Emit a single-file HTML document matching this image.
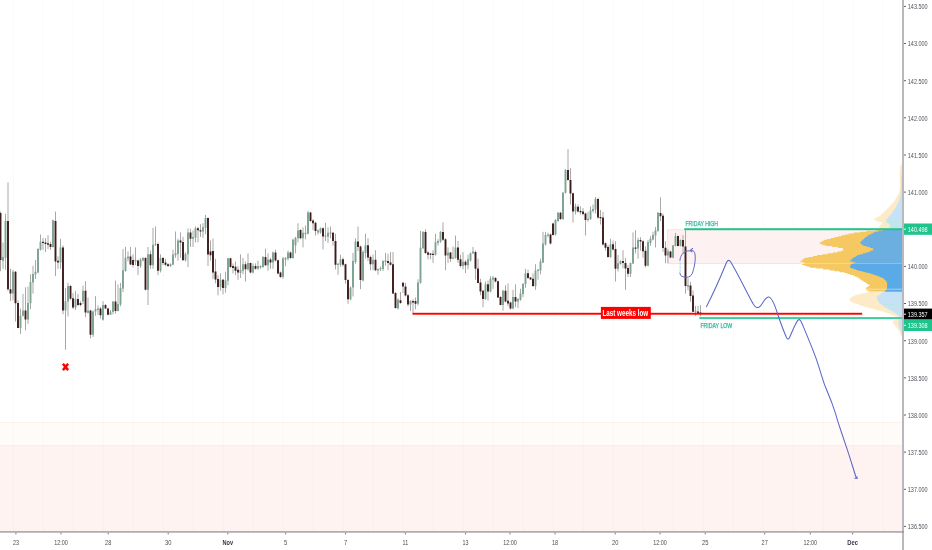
<!DOCTYPE html>
<html lang="en">
<head>
<meta charset="utf-8">
<title>Chart</title>
<style>
html,body{margin:0;padding:0;background:#fff;}
body{width:932px;height:550px;overflow:hidden;font-family:"Liberation Sans",Arial,sans-serif;}
svg{display:block;will-change:transform;}
</style>
</head>
<body>
<svg width="932" height="550" viewBox="0 0 932 550" font-family="Liberation Sans, Arial, sans-serif">
<rect width="932" height="550" fill="#ffffff"/>
<rect x="0" y="422.3" width="902" height="23.2" fill="#fffbf8"/>
<rect x="0" y="445.3" width="902" height="86" fill="#fef3f0"/>
<rect x="0" y="422" width="902" height="1" fill="#fdf1ed"/>
<rect x="0" y="445" width="902" height="1" fill="#fdece8"/>
<path d="M13.5 0V531 M43.5 0V531 M73.5 0V531 M103.5 0V531 M133.5 0V531 M163.5 0V531 M193.5 0V531 M223.5 0V531 M253.5 0V531 M283.5 0V531 M313.5 0V531 M343.5 0V531 M373.5 0V531 M403.5 0V531 M433.5 0V531 M463.5 0V531 M493.5 0V531 M523.5 0V531 M553.5 0V531 M583.5 0V531 M613.5 0V531 M643.5 0V531 M673.5 0V531 M703.5 0V531 M733.5 0V531 M763.5 0V531 M793.5 0V531 M823.5 0V531 M853.5 0V531 M883.5 0V531" stroke="#000000" stroke-opacity="0.035" stroke-width="1" stroke-dasharray="1 1" fill="none"/>
<rect x="667.5" y="229.8" width="234.5" height="33.7" fill="#fdf2f1" stroke="#f8d9d5" stroke-width="0.7"/>
<path d="M0.5 211.6V271.2 M3.0 242.5V268.8 M5.5 213.8V269.8 M8.0 182.4V290.9 M10.5 268.8V300.9 M13.0 269.8V300.4 M15.5 271.0V321.6 M18.0 300.4V328.2 M20.5 308.5V334.0 M23.0 293.9V316.5 M25.5 287.3V330.3 M28.0 286.6V323.8 M30.5 274.2V309.2 M33.0 265.9V293.6 M35.5 260.0V279.0 M38.0 248.3V273.2 M40.5 234.5V250.5 M43.0 238.1V249.8 M45.5 238.1V252.0 M48.0 235.2V249.1 M50.5 241.8V249.8 M53.0 219.6V247.6 M55.5 211.6V276.1 M58.0 256.4V268.8 M60.5 238.9V268.8 M63.0 245.4V314.3 M65.5 288.0V349.8 M68.0 282.9V316.5 M70.5 284.8V299.7 M73.0 293.1V309.2 M75.5 290.9V309.9 M78.0 293.9V306.3 M80.5 301.2V306.3 M83.0 285.6V304.1 M85.5 281.2V317.2 M88.0 297.5V313.6 M90.5 309.9V338.4 M93.0 310.6V336.9 M95.5 296.1V315.8 M98.0 305.5V315.0 M100.5 307.0V318.7 M103.0 301.2V320.6 M105.5 304.1V309.2 M108.0 307.7V315.3 M110.5 309.9V315.0 M113.0 301.2V314.3 M115.5 280.7V313.6 M118.0 284.4V311.4 M120.5 282.9V306.3 M123.0 249.1V292.1 M125.5 246.9V271.7 M128.0 251.3V261.5 M130.5 246.9V265.1 M133.0 254.2V267.3 M135.5 247.3V265.2 M138.0 259.7V275.2 M140.5 257.9V267.9 M143.0 257.0V261.5 M145.5 257.0V290.4 M148.0 247.0V305.0 M150.5 250.6V268.8 M153.0 227.8V268.8 M155.5 226.5V246.0 M158.0 242.4V275.2 M160.5 254.3V272.5 M163.0 257.0V265.2 M165.5 258.8V266.1 M168.0 263.0V267.0 M170.5 263.4V267.0 M173.0 249.7V265.2 M175.5 231.5V257.9 M178.0 238.7V260.6 M180.5 232.4V257.9 M183.0 236.9V260.6 M185.5 252.4V261.5 M188.0 228.3V267.0 M190.5 228.7V247.0 M193.0 230.5V247.0 M195.5 226.5V242.4 M198.0 226.9V242.4 M200.5 224.2V236.9 M203.0 223.2V237.8 M205.5 215.0V234.2 M208.0 217.4V266.1 M210.5 240.6V260.6 M213.0 238.7V278.9 M215.5 258.8V283.4 M218.0 275.2V295.3 M220.5 273.4V290.7 M223.0 278.9V294.4 M225.5 271.6V292.6 M228.0 257.9V285.3 M230.5 257.9V267.9 M233.0 263.4V273.4 M235.5 261.5V275.2 M238.0 266.1V279.8 M240.5 254.3V278.0 M243.0 257.9V274.3 M245.5 261.5V281.6 M248.0 253.3V270.7 M250.5 262.5V273.4 M253.0 263.4V273.4 M255.5 263.4V269.8 M258.0 260.6V269.8 M260.5 265.2V268.8 M263.0 256.1V267.9 M265.5 248.8V266.1 M268.0 253.3V270.7 M270.5 257.9V268.8 M273.0 251.5V268.8 M275.5 249.7V261.5 M278.0 259.7V274.3 M280.5 271.6V278.0 M283.0 257.0V278.9 M285.5 257.0V266.1 M288.0 250.6V260.6 M290.5 251.5V258.8 M293.0 238.7V258.8 M295.5 236.9V253.3 M298.0 223.2V242.4 M300.5 229.2V239.2 M303.0 227.4V247.4 M305.5 225.5V239.2 M308.0 210.9V234.3 M310.5 211.9V221.9 M313.0 219.2V230.1 M315.5 221.9V235.6 M318.0 229.2V234.7 M320.5 227.4V233.7 M323.0 227.4V249.3 M325.5 222.8V241.0 M328.0 227.4V242.9 M330.5 226.5V238.3 M333.0 231.9V245.6 M335.5 233.7V269.3 M338.0 262.9V274.8 M340.5 254.7V266.6 M343.0 257.5V266.6 M345.5 263.5V283.7 M348.0 279.2V303.8 M350.5 286.5V300.2 M353.0 252.9V296.5 M355.5 238.3V263.8 M358.0 226.5V251.1 M360.5 245.6V289.2 M363.0 250.2V281.4 M365.5 233.7V258.4 M368.0 238.3V261.1 M370.5 255.6V270.2 M373.0 254.7V270.2 M375.5 250.2V271.1 M378.0 268.4V274.8 M380.5 266.6V271.1 M383.0 260.2V271.1 M385.5 252.9V265.7 M388.0 253.8V270.2 M390.5 252.0V265.7 M393.0 252.0V294.1 M395.5 292.0V308.7 M398.0 298.3V309.3 M400.5 292.0V303.8 M403.0 281.9V292.9 M405.5 282.8V296.5 M408.0 293.8V306.5 M410.5 300.2V311.1 M413.0 299.3V312.9 M415.5 297.4V309.3 M418.0 279.2V305.6 M420.5 231.0V283.7 M423.0 231.0V248.9 M425.5 229.2V253.8 M428.0 251.1V259.3 M430.5 252.9V259.3 M433.0 250.2V262.9 M435.5 233.7V255.6 M438.0 239.2V245.6 M440.5 231.0V242.9 M443.0 222.3V241.0 M445.5 238.3V270.2 M448.0 247.4V262.9 M450.5 252.0V262.0 M453.0 246.5V259.3 M455.5 235.6V258.7 M458.0 241.0V262.9 M460.5 254.7V267.5 M463.0 252.0V269.3 M465.5 260.2V273.0 M468.0 254.7V269.3 M470.5 252.4V261.5 M473.0 246.9V254.2 M475.5 250.5V279.7 M478.0 258.7V283.4 M480.5 278.8V295.2 M483.0 289.8V307.1 M485.5 281.5V299.8 M488.0 280.6V300.7 M490.5 276.1V292.5 M493.0 276.1V288.8 M495.5 277.0V282.5 M498.0 280.6V298.0 M500.5 296.1V305.3 M503.0 289.8V310.7 M505.5 285.2V302.5 M508.0 283.4V306.2 M510.5 301.6V309.8 M513.0 289.8V309.3 M515.5 284.3V307.1 M518.0 298.0V308.0 M520.5 288.8V300.7 M523.0 283.4V297.1 M525.5 268.8V287.9 M528.0 269.7V278.8 M530.5 277.0V279.7 M533.0 273.3V287.0 M535.5 264.2V289.8 M538.0 268.8V279.7 M540.5 258.7V274.3 M543.0 231.8V263.0 M545.5 231.8V245.5 M548.0 232.7V237.3 M550.5 233.6V244.5 M553.0 222.7V235.5 M555.5 219.1V235.5 M558.0 211.8V221.8 M560.5 211.8V220.0 M563.0 191.8V220.0 M565.5 169.1V193.6 M568.0 149.1V180.9 M570.5 168.2V204.5 M573.0 192.7V222.7 M575.5 203.6V214.5 M578.0 204.5V212.7 M580.5 206.4V214.5 M583.0 208.2V215.5 M585.5 212.7V235.5 M588.0 211.8V221.8 M590.5 206.4V220.0 M593.0 204.5V212.7 M595.5 196.9V213.6 M598.0 197.6V219.1 M600.5 210.0V224.5 M603.0 211.8V245.5 M605.5 242.3V250.5 M608.0 245.1V257.8 M610.5 238.7V257.8 M613.0 240.5V250.5 M615.5 241.4V281.5 M618.0 255.1V271.5 M620.5 260.4V264.7 M623.0 250.2V268.4 M625.5 258.2V289.9 M628.0 265.2V277.0 M630.5 262.5V277.0 M633.0 232.4V264.1 M635.5 230.2V253.4 M638.0 237.7V258.8 M640.5 237.2V250.7 M643.0 240.4V257.7 M645.5 246.4V267.4 M648.0 239.9V266.3 M650.5 236.1V245.8 M653.0 231.8V240.4 M655.5 227.0V247.4 M658.0 212.0V231.8 M660.5 197.3V221.1 M663.0 213.6V251.8 M665.5 241.1V263.1 M668.0 249.1V263.1 M670.5 250.7V258.2 M673.0 244.8V258.2 M675.5 232.9V246.4 M678.0 235.6V246.4 M680.5 239.4V246.4 M683.0 235.1V253.9 M685.5 230.2V293.6 M688.0 278.1V290.4 M690.5 281.8V301.8 M693.0 290.5V312.0 M695.5 305.9V315.9 M698.0 305.9V313.2 M700.5 305.0V316.4" stroke="#a8a8a8" stroke-width="1" fill="none"/>
<path d="M2.05 257.1h1.9V260.8h-1.9z M4.55 221.1h1.9V257.8h-1.9z M12.05 271.7h1.9V293.6h-1.9z M19.55 315.8h1.9V327.9h-1.9z M22.05 310.6h1.9V315.8h-1.9z M27.05 303.1h1.9V319.4h-1.9z M29.55 281.9h1.9V303.3h-1.9z M32.05 273.9h1.9V282.6h-1.9z M34.55 271.7h1.9V274.6h-1.9z M37.05 249.1h1.9V272.4h-1.9z M39.55 241.8h1.9V249.8h-1.9z M52.05 220.3h1.9V246.9h-1.9z M59.55 247.6h1.9V262.6h-1.9z M64.55 301.2h1.9V310.6h-1.9z M67.05 286.0h1.9V301.6h-1.9z M74.55 299.0h1.9V307.4h-1.9z M82.05 290.7h1.9V301.6h-1.9z M87.05 310.4h1.9V312.8h-1.9z M92.05 311.4h1.9V334.7h-1.9z M94.55 309.2h1.9V311.4h-1.9z M97.05 308.5h1.9V309.9h-1.9z M102.05 305.1h1.9V319.7h-1.9z M109.55 311.8h1.9V314.7h-1.9z M112.05 301.6h1.9V312.1h-1.9z M117.05 304.1h1.9V310.9h-1.9z M119.55 288.0h1.9V304.5h-1.9z M122.05 270.2h1.9V288.5h-1.9z M124.55 257.8h1.9V271.0h-1.9z M127.05 256.4h1.9V258.6h-1.9z M134.55 259.7h1.9V261.5h-1.9z M139.55 259.4h1.9V266.1h-1.9z M142.05 257.9h1.9V260.6h-1.9z M147.05 254.3h1.9V289.8h-1.9z M152.05 244.8h1.9V265.2h-1.9z M154.55 243.9h1.9V245.1h-1.9z M159.55 257.9h1.9V270.7h-1.9z M169.55 264.3h1.9V266.1h-1.9z M172.05 254.6h1.9V264.8h-1.9z M174.55 253.3h1.9V255.2h-1.9z M177.05 240.6h1.9V253.9h-1.9z M184.55 253.9h1.9V260.3h-1.9z M187.05 232.4h1.9V254.3h-1.9z M192.05 236.9h1.9V238.7h-1.9z M194.55 228.3h1.9V237.8h-1.9z M202.05 227.3h1.9V231.5h-1.9z M204.55 218.1h1.9V227.8h-1.9z M219.55 279.8h1.9V287.1h-1.9z M224.55 280.2h1.9V288.0h-1.9z M227.05 258.3h1.9V280.7h-1.9z M239.55 269.8h1.9V272.9h-1.9z M242.05 264.3h1.9V270.7h-1.9z M247.05 263.0h1.9V269.2h-1.9z M252.05 266.1h1.9V272.5h-1.9z M257.05 266.1h1.9V268.8h-1.9z M259.55 266.1h1.9V267.4h-1.9z M262.05 257.0h1.9V267.0h-1.9z M267.05 259.4h1.9V265.2h-1.9z M272.05 252.4h1.9V262.5h-1.9z M282.05 258.3h1.9V277.1h-1.9z M284.55 257.9h1.9V259.4h-1.9z M287.05 252.4h1.9V258.8h-1.9z M292.05 239.7h1.9V257.9h-1.9z M294.55 237.8h1.9V245.5h-1.9z M297.05 230.5h1.9V238.2h-1.9z M302.05 232.8h1.9V238.3h-1.9z M304.55 232.8h1.9V234.3h-1.9z M307.05 212.4h1.9V233.7h-1.9z M317.05 230.6h1.9V232.5h-1.9z M319.55 228.3h1.9V232.5h-1.9z M324.55 235.6h1.9V236.8h-1.9z M327.05 232.8h1.9V236.5h-1.9z M329.55 232.5h1.9V233.7h-1.9z M337.05 263.8h1.9V265.1h-1.9z M339.55 259.3h1.9V264.8h-1.9z M349.55 287.4h1.9V299.3h-1.9z M352.05 261.1h1.9V287.4h-1.9z M354.55 241.6h1.9V262.0h-1.9z M362.05 252.0h1.9V280.6h-1.9z M364.55 245.2h1.9V252.9h-1.9z M372.05 259.8h1.9V264.2h-1.9z M377.05 269.0h1.9V270.4h-1.9z M379.55 267.9h1.9V269.3h-1.9z M382.05 261.1h1.9V269.0h-1.9z M384.55 260.6h1.9V262.0h-1.9z M397.05 299.6h1.9V308.4h-1.9z M409.55 301.1h1.9V304.4h-1.9z M417.05 282.5h1.9V303.8h-1.9z M419.55 247.8h1.9V282.8h-1.9z M422.05 231.9h1.9V248.3h-1.9z M434.55 242.3h1.9V254.7h-1.9z M437.05 241.0h1.9V242.9h-1.9z M439.55 231.9h1.9V241.6h-1.9z M447.05 252.5h1.9V255.6h-1.9z M452.05 257.5h1.9V258.7h-1.9z M454.55 247.4h1.9V258.0h-1.9z M462.05 261.7h1.9V266.0h-1.9z M467.05 259.3h1.9V265.3h-1.9z M469.55 253.3h1.9V260.6h-1.9z M472.05 251.5h1.9V253.3h-1.9z M484.55 284.3h1.9V298.9h-1.9z M489.55 278.8h1.9V291.6h-1.9z M492.05 277.5h1.9V279.4h-1.9z M502.05 290.7h1.9V304.9h-1.9z M512.05 297.1h1.9V308.5h-1.9z M517.05 298.9h1.9V301.6h-1.9z M519.55 293.4h1.9V299.8h-1.9z M522.05 283.7h1.9V294.0h-1.9z M524.55 273.3h1.9V284.3h-1.9z M534.55 270.6h1.9V286.1h-1.9z M537.05 269.7h1.9V271.0h-1.9z M539.55 261.5h1.9V270.6h-1.9z M542.05 243.6h1.9V262.4h-1.9z M544.55 235.1h1.9V244.5h-1.9z M547.05 234.5h1.9V235.8h-1.9z M554.55 220.0h1.9V234.5h-1.9z M557.05 212.7h1.9V220.9h-1.9z M562.05 192.7h1.9V219.1h-1.9z M564.55 170.0h1.9V192.7h-1.9z M574.55 206.4h1.9V211.5h-1.9z M587.05 218.7h1.9V220.0h-1.9z M589.55 210.4h1.9V219.1h-1.9z M592.05 209.1h1.9V210.9h-1.9z M594.55 199.1h1.9V209.6h-1.9z M609.55 244.2h1.9V256.9h-1.9z M617.05 263.3h1.9V268.8h-1.9z M619.55 260.9h1.9V264.1h-1.9z M629.55 263.1h1.9V273.8h-1.9z M632.05 247.5h1.9V263.6h-1.9z M637.05 239.9h1.9V248.6h-1.9z M647.05 242.0h1.9V265.8h-1.9z M649.55 238.8h1.9V243.1h-1.9z M652.05 235.1h1.9V239.4h-1.9z M654.55 230.2h1.9V235.6h-1.9z M657.05 212.7h1.9V230.8h-1.9z M667.05 251.6h1.9V255.6h-1.9z M672.05 245.4h1.9V257.7h-1.9z M674.55 235.9h1.9V245.9h-1.9z M679.55 239.9h1.9V245.9h-1.9z M687.05 285.1h1.9V286.7h-1.9z M694.55 310.8h1.9V312.1h-1.9z" fill="#7da391"/>
<path d="M-0.45 213.0h1.9V260.0h-1.9z M7.05 221.1h1.9V289.2h-1.9z M9.55 289.2h1.9V293.6h-1.9z M14.55 271.7h1.9V303.3h-1.9z M17.05 303.1h1.9V327.9h-1.9z M24.55 310.6h1.9V319.4h-1.9z M42.05 241.7h1.9V242.9h-1.9z M44.55 242.5h1.9V244.0h-1.9z M47.05 243.2h1.9V244.7h-1.9z M49.55 244.0h1.9V246.9h-1.9z M54.55 221.1h1.9V261.5h-1.9z M57.05 260.8h1.9V262.6h-1.9z M62.05 247.6h1.9V310.6h-1.9z M69.55 286.0h1.9V298.7h-1.9z M72.05 298.2h1.9V307.4h-1.9z M77.05 299.0h1.9V305.1h-1.9z M79.55 303.1h1.9V305.1h-1.9z M84.55 290.7h1.9V312.4h-1.9z M89.55 310.6h1.9V334.7h-1.9z M99.55 308.5h1.9V315.3h-1.9z M104.55 305.1h1.9V308.5h-1.9z M107.05 308.5h1.9V314.7h-1.9z M114.55 301.6h1.9V310.9h-1.9z M129.55 256.4h1.9V264.4h-1.9z M132.05 260.0h1.9V265.1h-1.9z M137.05 260.6h1.9V266.1h-1.9z M144.55 257.9h1.9V289.8h-1.9z M149.55 254.3h1.9V265.2h-1.9z M157.05 243.9h1.9V270.7h-1.9z M162.05 257.9h1.9V263.0h-1.9z M164.55 262.5h1.9V264.8h-1.9z M167.05 264.3h1.9V266.1h-1.9z M179.55 240.6h1.9V242.4h-1.9z M182.05 242.0h1.9V260.3h-1.9z M189.55 232.4h1.9V238.7h-1.9z M197.05 228.3h1.9V230.2h-1.9z M199.55 230.2h1.9V231.5h-1.9z M207.05 218.1h1.9V254.6h-1.9z M209.55 251.5h1.9V255.2h-1.9z M212.05 251.0h1.9V272.5h-1.9z M214.55 271.6h1.9V279.4h-1.9z M217.05 278.9h1.9V287.1h-1.9z M222.05 279.8h1.9V288.0h-1.9z M229.55 258.3h1.9V267.0h-1.9z M232.05 266.1h1.9V267.9h-1.9z M234.55 266.7h1.9V270.7h-1.9z M237.05 269.8h1.9V272.5h-1.9z M244.55 264.3h1.9V269.2h-1.9z M249.55 263.0h1.9V272.5h-1.9z M254.55 266.1h1.9V268.8h-1.9z M264.55 257.0h1.9V265.2h-1.9z M269.55 259.4h1.9V262.5h-1.9z M274.55 252.4h1.9V260.6h-1.9z M277.05 260.3h1.9V273.4h-1.9z M279.55 272.5h1.9V277.1h-1.9z M289.55 252.4h1.9V257.9h-1.9z M299.55 230.1h1.9V238.3h-1.9z M309.55 212.4h1.9V221.0h-1.9z M312.05 220.4h1.9V223.3h-1.9z M314.55 222.8h1.9V231.0h-1.9z M322.05 228.3h1.9V236.5h-1.9z M332.05 232.8h1.9V241.0h-1.9z M334.55 241.0h1.9V264.8h-1.9z M342.05 259.3h1.9V264.8h-1.9z M344.55 264.2h1.9V280.1h-1.9z M347.05 280.1h1.9V299.3h-1.9z M357.05 241.6h1.9V247.1h-1.9z M359.55 246.5h1.9V280.1h-1.9z M367.05 245.2h1.9V257.5h-1.9z M369.55 256.9h1.9V264.2h-1.9z M374.55 259.8h1.9V270.2h-1.9z M387.05 261.1h1.9V262.9h-1.9z M389.55 262.4h1.9V264.8h-1.9z M392.05 264.2h1.9V293.4h-1.9z M394.55 292.9h1.9V308.0h-1.9z M399.55 300.2h1.9V302.9h-1.9z M402.05 282.8h1.9V286.5h-1.9z M404.55 286.5h1.9V295.6h-1.9z M407.05 295.2h1.9V304.4h-1.9z M412.05 301.1h1.9V302.4h-1.9z M414.55 301.1h1.9V303.8h-1.9z M424.55 231.9h1.9V252.9h-1.9z M427.05 252.5h1.9V254.7h-1.9z M429.55 253.4h1.9V254.7h-1.9z M432.05 253.8h1.9V255.1h-1.9z M442.05 231.9h1.9V239.8h-1.9z M444.55 239.2h1.9V255.6h-1.9z M449.55 252.5h1.9V258.7h-1.9z M457.05 247.4h1.9V259.8h-1.9z M459.55 259.3h1.9V266.0h-1.9z M464.55 261.7h1.9V265.3h-1.9z M474.55 252.0h1.9V268.8h-1.9z M477.05 268.4h1.9V283.0h-1.9z M479.55 282.5h1.9V291.6h-1.9z M482.05 290.7h1.9V298.9h-1.9z M487.05 284.3h1.9V291.6h-1.9z M494.55 277.9h1.9V281.5h-1.9z M497.05 281.2h1.9V297.6h-1.9z M499.55 297.1h1.9V304.9h-1.9z M504.55 290.7h1.9V301.6h-1.9z M507.05 300.7h1.9V303.4h-1.9z M509.55 302.5h1.9V308.5h-1.9z M514.55 297.1h1.9V301.6h-1.9z M527.05 273.3h1.9V277.9h-1.9z M529.55 277.5h1.9V279.4h-1.9z M532.05 278.8h1.9V286.1h-1.9z M549.55 234.5h1.9V243.6h-1.9z M552.05 223.6h1.9V235.1h-1.9z M559.55 212.7h1.9V219.1h-1.9z M567.05 170.0h1.9V180.0h-1.9z M569.55 180.0h1.9V193.6h-1.9z M572.05 193.3h1.9V211.5h-1.9z M577.05 206.7h1.9V211.5h-1.9z M579.55 210.9h1.9V212.2h-1.9z M582.05 211.5h1.9V214.0h-1.9z M584.55 213.6h1.9V220.0h-1.9z M597.05 199.1h1.9V217.6h-1.9z M599.55 216.9h1.9V218.2h-1.9z M602.05 217.6h1.9V244.5h-1.9z M604.55 243.2h1.9V247.8h-1.9z M607.05 246.9h1.9V256.9h-1.9z M612.05 244.2h1.9V249.6h-1.9z M614.55 249.1h1.9V268.8h-1.9z M622.05 260.9h1.9V263.1h-1.9z M624.55 263.1h1.9V268.4h-1.9z M627.05 267.9h1.9V273.8h-1.9z M634.55 247.5h1.9V248.7h-1.9z M639.55 239.9h1.9V241.5h-1.9z M642.05 241.3h1.9V251.3h-1.9z M644.55 250.7h1.9V265.8h-1.9z M659.55 213.1h1.9V216.3h-1.9z M662.05 215.8h1.9V248.0h-1.9z M664.55 247.7h1.9V255.6h-1.9z M669.55 251.6h1.9V257.4h-1.9z M677.05 236.1h1.9V245.9h-1.9z M682.05 239.9h1.9V246.4h-1.9z M684.55 246.4h1.9V286.1h-1.9z M689.55 285.6h1.9V295.9h-1.9z M692.05 295.5h1.9V311.8h-1.9z M697.05 311.4h1.9V312.9h-1.9z M699.55 312.6h1.9V313.9h-1.9z" fill="#3c1b1b"/>
<path d="M902 164.5H900.5V165.4H900.4V166.3H900.3V167.2H900.2V168.1H900.1V169.0H900.0V169.9H899.9V170.8H899.8V171.7H899.7V172.6H899.7V173.5H899.6V174.4H899.6V175.3H899.7V176.2H899.7V177.1H899.7V178.0H899.8V178.9H899.8V179.8H899.8V180.7H899.8V181.6H899.9V182.5H899.9V183.4H899.9V184.3H899.9V185.2H900.0V186.1H900.0V187.0H899.8V187.9H899.6V188.8H899.5V189.7H899.3V190.6H899.2V191.5H899.0V192.4H898.8V193.3H898.6V194.2H898.1V195.1H897.6V196.0H897.1V196.9H896.5V197.8H896.0V198.7H895.5V199.6H895.0V200.5H894.5V201.4H893.7V202.3H892.9V203.2H892.0V204.1H891.2V205.0H890.4V205.9H889.6V206.8H888.8V207.7H887.9V208.6H887.1V209.5H886.2V210.4H885.4V211.3H884.5V212.2H883.5V213.1H882.4V214.0H881.3V214.9H880.3V215.8H879.2V216.7H877.4V217.6H875.6V218.5H873.7V219.4H874.8V220.3H876.1V221.2H878.8V222.1H882.1V223.0H882.0V223.9H881.1V224.8H880.2V225.7H879.6V226.6H879.1V227.5H878.9V228.4H879.7V229.0H902z" fill="#fdebc8"/>
<path d="M902 291.5H867.4V292.4H865.6V293.3H861.1V294.2H857.0V295.1H854.9V296.0H852.9V296.9H851.0V297.8H850.3V298.7H849.6V299.6H849.1V300.5H850.3V301.4H851.5V302.3H852.8V303.2H855.5V304.1H858.2V305.0H860.9V305.9H863.8V306.8H866.8V307.7H869.8V308.6H873.3V309.5H876.9V310.4H880.4V311.3H883.3V312.2H886.1V313.1H888.8V314.0H891.0V314.9H893.1V315.8H895.2V316.7H896.7V317.6H898.2V318.5H897.9V319.4H895.6V320.3H893.3V321.2H892.8V322.1H893.1V323.0H893.3V323.9H893.9V324.8H894.7V325.7H895.4V326.6H896.2V327.5H896.9V328.4H897.5V329.3H898.1V330.2H898.8V331.1H899.3V332.0H899.8V332.9H900.3V333.8H900.9V334.7H901.2V335.6H901.4V336.5H901.7V337.4H901.9V338.0H902z" fill="#fdebc8"/>
<path d="M902 172.0H901.9V172.9H901.7V173.8H901.6V174.7H901.4V175.6H901.2V176.5H901.2V177.4H901.2V178.3H901.1V179.2H901.1V180.1H901.1V181.0H901.1V181.9H901.1V182.8H901.0V183.7H901.0V184.6H901.0V185.5H901.0V186.4H901.0V187.3H900.9V188.2H900.9V189.1H900.9V190.0H900.9V190.9H900.9V191.8H900.8V192.7H900.8V193.6H900.7V194.5H900.5V195.4H900.2V196.3H900.0V197.2H899.8V198.1H899.6V199.0H899.4V199.9H899.1V200.8H898.8V201.7H898.4V202.6H898.0V203.5H897.6V204.4H897.1V205.3H896.7V206.2H896.2V207.1H895.6V208.0H895.0V208.9H894.4V209.8H893.8V210.7H893.1V211.6H892.5V212.5H891.8V213.4H891.1V214.3H890.3V215.2H889.6V216.1H888.9V217.0H888.1V217.9H887.4V218.8H886.6V219.7H886.1V220.6H886.8V221.5H887.4V222.4H888.1V223.3H888.9V224.2H889.6V225.1H890.3V226.0H890.9V226.9H890.0V227.8H889.3V228.7H889.1V229.0H902z" fill="#c6e2f6"/>
<path d="M902 291.5H882.6V292.4H881.7V293.3H880.8V294.2H879.6V295.1H878.4V296.0H877.3V296.9H877.3V297.8H877.3V298.7H877.3V299.6H877.3V300.5H877.9V301.4H878.5V302.3H879.1V303.2H880.3V304.1H881.4V305.0H882.6V305.9H883.9V306.8H885.1V307.7H886.3V308.6H888.0V309.5H889.8V310.4H891.5V311.3H893.1V312.2H894.7V313.1H896.3V314.0H897.2V314.9H898.0V315.8H898.9V316.7H899.4V317.6H900.0V318.5H900.5V319.4H899.8V320.3H899.1V321.2H898.3V322.1H898.3V323.0H898.4V323.9H898.5V324.8H898.7V325.7H898.9V326.6H899.3V327.5H899.6V328.4H899.9V329.3H900.3V330.2H900.6V331.1H900.9V332.0H901.2V332.9H901.4V333.8H901.6V334.7H901.8V335.6H902.0V336.0H902z" fill="#c6e2f6"/>
<path d="M902 229.0H882.2V229.9H875.8V230.8H866.3V231.7H860.0V232.6H853.8V233.5H848.6V234.4H845.1V235.3H841.6V236.2H838.0V237.1H834.5V238.0H830.8V238.9H827.1V239.8H824.1V240.7H822.6V241.6H821.1V242.5H819.7V243.4H819.8V244.3H822.6V245.2H826.0V246.1H831.9V247.0H837.8V247.9H842.8V248.8H843.1V249.7H843.5V250.6H841.3V251.5H837.4V252.4H832.9V253.3H827.6V254.2H822.3V255.1H817.1V256.0H812.8V256.9H808.5V257.8H804.4V258.7H803.3V259.6H802.2V260.5H801.1V261.4H800.2V262.3H803.8V263.2H804.8V264.1H801.9V265.0H804.6V265.9H807.2V266.8H809.9V267.7H816.3V268.6H823.0V269.5H829.6V270.4H834.6V271.3H839.4V272.2H844.2V273.1H847.3V274.0H850.2V274.9H853.1V275.8H855.1V276.7H856.9V277.6H858.7V278.5H860.0V279.4H861.2V280.3H862.4V281.2H863.8V282.1H865.4V283.0H867.0V283.9H868.4V284.8H869.6V285.7H868.9V286.6H867.4V287.5H865.9V288.4H865.8V289.3H866.3V290.2H868.0V291.1H869.5V291.5H902z" fill="#f6c862"/>
<path d="M902 229.0H887.5V229.9H882.7V230.8H878.2V231.7H874.8V232.6H873.0V233.5H871.1V234.4H869.3V235.3H867.7V236.2H866.6V237.1H865.4V238.0H864.3V238.9H863.3V239.8H862.4V240.7H861.5V241.6H860.6V242.5H860.3V243.4H861.2V244.3H862.2V245.2H863.5V246.1H866.8V247.0H870.0V247.9H872.8V248.8H873.2V249.7H873.2V250.6H870.8V251.5H868.4V252.4H865.9V253.3H863.0V254.2H860.1V255.1H857.2V256.0H855.7V256.9H854.1V257.8H852.7V258.7H851.8V259.6H850.9V260.5H850.0V261.4H852.8V262.3H855.4V263.2H853.1V264.1H851.0V265.0H850.7V265.9H850.3V266.8H850.0V267.7H852.3V268.6H854.7V269.5H857.2V270.4H860.7V271.3H864.4V272.2H868.0V273.1H871.0V274.0H873.9V274.9H876.8V275.8H879.0V276.7H881.1V277.6H883.2V278.5H884.3V279.4H885.2V280.3H886.1V281.2H886.6V282.1H886.9V283.0H887.2V283.9H887.3V284.8H887.3V285.7H887.3V286.6H887.3V287.5H887.1V288.4H886.8V289.3H886.5V290.2H885.6V291.1H884.8V291.5H902z" fill="#6baee0"/>
<path d="M902 263.7H851.9V264.6H850.8V265.5H850.5V266.4H850.2V267.3H851.2V268.2H853.6V269.1H856.1V270.0H859.1V270.9H862.7V271.8H866.4V272.7H869.7V273.6H872.6V274.5H875.5V275.4H878.1V276.3H880.2V277.2H882.3V278.1H883.9V279.0H884.8V279.9H885.7V280.8H886.5V281.7H886.8V282.6H887.1V283.5H887.3V284.4H887.3V285.3H887.3V286.2H887.3V287.1H887.2V288.0H886.9V288.9H886.6V289.8H886.1V290.7H885.0V291.5H902z" fill="#5aaae8"/>
<path d="M886 222.4H902M889 226.5H902M884 304.4H902" stroke="#b9e8d6" stroke-width="0.8" fill="none"/>
<path d="M866 289.2H902" stroke="#ffffff" stroke-opacity="0.5" stroke-width="0.9" fill="none"/>
<path d="M800 263.5H902" stroke="#ffffff" stroke-opacity="0.35" stroke-width="0.7" fill="none"/>
<rect x="684.3" y="228.2" width="217.7" height="2" fill="#22c48d"/>
<rect x="699.3" y="317.1" width="202.7" height="2" fill="#3fcb9c"/>
<rect x="412.5" y="312.8" width="449.7" height="1.9" fill="#ff0000"/>
<rect x="600.9" y="306.9" width="49.9" height="12" fill="#ff0000"/>
<text x="602.4" y="316.3" font-size="8.6" font-weight="bold" fill="#ffffff" textLength="45.8" lengthAdjust="spacingAndGlyphs">Last weeks low</text>
<text x="685.5" y="225.6" font-size="7" fill="#35b39c" stroke="#35b39c" stroke-width="0.25" textLength="32.4" lengthAdjust="spacingAndGlyphs">FRIDAY HIGH</text>
<text x="700.4" y="327.8" font-size="6.6" fill="#35b39c" stroke="#35b39c" stroke-width="0.25" textLength="31.8" lengthAdjust="spacingAndGlyphs">FRIDAY LOW</text>
<path d="M62.9 363.7L68.1 370.1M68.1 363.7L62.9 370.1" stroke="#ff0000" stroke-width="2.5" fill="none"/>
<path d="M690.6 250.9C690.0 250.9 688.0 250.7 686.8 251.1C685.5 251.5 684.1 252.3 683.1 253.2C682.1 254.1 681.5 255.2 680.9 256.5C680.3 257.8 680.0 260.1 679.8 260.8" stroke="#5a68c6" stroke-width="1" fill="none"/>
<path d="M679.8 272.6C680.0 273.1 680.3 274.9 680.9 275.6C681.5 276.3 682.1 276.5 683.1 276.8C684.1 277.1 685.6 277.3 686.8 277.2C687.9 277.1 689.1 276.9 690.0 276.3C690.9 275.7 691.6 274.8 692.2 273.6C692.8 272.4 693.1 270.7 693.5 269.3C693.9 267.9 694.2 266.6 694.5 265.0C694.8 263.4 695.1 261.5 695.2 259.7C695.3 257.9 695.2 255.7 695.0 254.3C694.8 253.0 694.6 252.2 694.1 251.6C693.6 251.0 692.8 250.7 692.2 250.6C691.6 250.5 690.9 250.8 690.6 250.9" stroke="#5a68c6" stroke-width="1" fill="none"/>
<path d="M680.2 260.2V273.2" stroke="#a9d9ef" stroke-width="1.7" stroke-dasharray="0.7 0.7" fill="none"/>
<path d="M693 248.1L690.4 250.3L692.3 252.2" stroke="#5a68c6" stroke-width="1.05" fill="none"/>
<path d="M706.3 306.9C713 294 721 276 726.5 262.5Q728.5 258.6 730.6 261.8C738 274 747 293 753.5 304.5Q757 309.8 760.5 305.8C763.5 302 765.5 297.6 768.3 297.1C771.5 296.8 774.5 304 777.6 314C781 324 784.5 333 786.5 337.5Q788 340.6 789.6 337.5C792.5 331 796 321.5 798.5 319.8Q800.2 318.8 801.8 323C806 333 811.5 346 815.4 356.6C819 366 822 378 824.7 385.1C827.5 392 830 398 832.2 403.9C834.5 410 836.5 416.5 838.3 422.8C841.5 432.5 845 443 848.1 452.2C851 461 854 471 856.3 478" stroke="#5a68c6" stroke-width="1.05" fill="none"/>
<path d="M854.4 478.3H858M856.9 476.3V478.3" stroke="#5a68c6" stroke-width="1.05" fill="none"/>
<rect x="902" y="0" width="2" height="550" fill="#b9b9bd"/>
<rect x="0" y="531.2" width="904" height="1.6" fill="#9c9ca0"/>
<rect x="904" y="0" width="28" height="550" fill="#ffffff"/>
<rect x="0" y="532.8" width="902" height="17.2" fill="#ffffff"/>
<rect x="904" y="5.9" width="2" height="1" fill="#6a5a66"/>
<text x="907.8" y="9.3" font-size="8" fill="#50505a" textLength="19.8" lengthAdjust="spacingAndGlyphs">143.500</text>
<rect x="904" y="43.0" width="2" height="1" fill="#6a5a66"/>
<text x="907.8" y="46.4" font-size="8" fill="#50505a" textLength="19.8" lengthAdjust="spacingAndGlyphs">143.000</text>
<rect x="904" y="80.2" width="2" height="1" fill="#6a5a66"/>
<text x="907.8" y="83.6" font-size="8" fill="#50505a" textLength="19.8" lengthAdjust="spacingAndGlyphs">142.500</text>
<rect x="904" y="117.3" width="2" height="1" fill="#6a5a66"/>
<text x="907.8" y="120.7" font-size="8" fill="#50505a" textLength="19.8" lengthAdjust="spacingAndGlyphs">142.000</text>
<rect x="904" y="154.5" width="2" height="1" fill="#6a5a66"/>
<text x="907.8" y="157.9" font-size="8" fill="#50505a" textLength="19.8" lengthAdjust="spacingAndGlyphs">141.500</text>
<rect x="904" y="191.6" width="2" height="1" fill="#6a5a66"/>
<text x="907.8" y="195.0" font-size="8" fill="#50505a" textLength="19.8" lengthAdjust="spacingAndGlyphs">141.000</text>
<rect x="904" y="228.8" width="2" height="1" fill="#6a5a66"/>
<text x="907.8" y="232.2" font-size="8" fill="#50505a" textLength="19.8" lengthAdjust="spacingAndGlyphs">140.500</text>
<rect x="904" y="265.9" width="2" height="1" fill="#6a5a66"/>
<text x="907.8" y="269.3" font-size="8" fill="#50505a" textLength="19.8" lengthAdjust="spacingAndGlyphs">140.000</text>
<rect x="904" y="303.0" width="2" height="1" fill="#6a5a66"/>
<text x="907.8" y="306.4" font-size="8" fill="#50505a" textLength="19.8" lengthAdjust="spacingAndGlyphs">139.500</text>
<rect x="904" y="340.2" width="2" height="1" fill="#6a5a66"/>
<text x="907.8" y="343.6" font-size="8" fill="#50505a" textLength="19.8" lengthAdjust="spacingAndGlyphs">139.000</text>
<rect x="904" y="377.3" width="2" height="1" fill="#6a5a66"/>
<text x="907.8" y="380.7" font-size="8" fill="#50505a" textLength="19.8" lengthAdjust="spacingAndGlyphs">138.500</text>
<rect x="904" y="414.5" width="2" height="1" fill="#6a5a66"/>
<text x="907.8" y="417.9" font-size="8" fill="#50505a" textLength="19.8" lengthAdjust="spacingAndGlyphs">138.000</text>
<rect x="904" y="451.6" width="2" height="1" fill="#6a5a66"/>
<text x="907.8" y="455.0" font-size="8" fill="#50505a" textLength="19.8" lengthAdjust="spacingAndGlyphs">137.500</text>
<rect x="904" y="488.8" width="2" height="1" fill="#6a5a66"/>
<text x="907.8" y="492.2" font-size="8" fill="#50505a" textLength="19.8" lengthAdjust="spacingAndGlyphs">137.000</text>
<rect x="904" y="525.9" width="2" height="1" fill="#6a5a66"/>
<text x="907.8" y="529.3" font-size="8" fill="#50505a" textLength="19.8" lengthAdjust="spacingAndGlyphs">136.500</text>
<rect x="904" y="223.5" width="28" height="11.3" fill="#1ec48c"/>
<rect x="904" y="228.7" width="2" height="1" fill="#ffffff"/>
<text x="907.8" y="232.3" font-size="8" fill="#ffffff" textLength="19.8" lengthAdjust="spacingAndGlyphs">140.498</text>
<rect x="904" y="308.6" width="28" height="11" fill="#000000"/>
<rect x="904" y="313.7" width="2" height="1" fill="#ffffff"/>
<text x="907.8" y="317.3" font-size="8" fill="#ffffff" textLength="19.8" lengthAdjust="spacingAndGlyphs">139.357</text>
<rect x="904" y="319.6" width="28" height="11.4" fill="#1ec48c"/>
<rect x="904" y="324.8" width="2" height="1" fill="#ffffff"/>
<text x="907.8" y="328.4" font-size="8" fill="#ffffff" textLength="19.8" lengthAdjust="spacingAndGlyphs">139.308</text>
<rect x="15.4" y="532.8" width="1" height="1.6" fill="#77777c"/>
<text x="12.9" y="545" font-size="7.6" fill="#4c4c53" textLength="6.0" lengthAdjust="spacingAndGlyphs">23</text>
<rect x="60.5" y="532.8" width="1" height="1.6" fill="#77777c"/>
<text x="54.2" y="545" font-size="7.6" fill="#4c4c53" textLength="13.6" lengthAdjust="spacingAndGlyphs">12:00</text>
<rect x="107.7" y="532.8" width="1" height="1.6" fill="#77777c"/>
<text x="105.1" y="545" font-size="7.6" fill="#4c4c53" textLength="6.2" lengthAdjust="spacingAndGlyphs">28</text>
<rect x="167.7" y="532.8" width="1" height="1.6" fill="#77777c"/>
<text x="165.0" y="545" font-size="7.6" fill="#4c4c53" textLength="6.4" lengthAdjust="spacingAndGlyphs">30</text>
<rect x="227.3" y="532.8" width="1" height="1.6" fill="#77777c"/>
<text x="222.5" y="545" font-size="7.6" font-weight="bold" fill="#3a3244" textLength="10.6" lengthAdjust="spacingAndGlyphs">Nov</text>
<rect x="285.2" y="532.8" width="1" height="1.6" fill="#77777c"/>
<text x="284.1" y="545" font-size="7.6" fill="#4c4c53" textLength="3.2" lengthAdjust="spacingAndGlyphs">5</text>
<rect x="345.1" y="532.8" width="1" height="1.6" fill="#77777c"/>
<text x="344.0" y="545" font-size="7.6" fill="#4c4c53" textLength="3.2" lengthAdjust="spacingAndGlyphs">7</text>
<rect x="404.9" y="532.8" width="1" height="1.6" fill="#77777c"/>
<text x="402.6" y="545" font-size="7.6" fill="#4c4c53" textLength="5.6" lengthAdjust="spacingAndGlyphs">11</text>
<rect x="465.1" y="532.8" width="1" height="1.6" fill="#77777c"/>
<text x="462.6" y="545" font-size="7.6" fill="#4c4c53" textLength="6.0" lengthAdjust="spacingAndGlyphs">13</text>
<rect x="509.5" y="532.8" width="1" height="1.6" fill="#77777c"/>
<text x="503.2" y="545" font-size="7.6" fill="#4c4c53" textLength="13.6" lengthAdjust="spacingAndGlyphs">12:00</text>
<rect x="554.6" y="532.8" width="1" height="1.6" fill="#77777c"/>
<text x="552.1" y="545" font-size="7.6" fill="#4c4c53" textLength="6.0" lengthAdjust="spacingAndGlyphs">18</text>
<rect x="614.7" y="532.8" width="1" height="1.6" fill="#77777c"/>
<text x="612.0" y="545" font-size="7.6" fill="#4c4c53" textLength="6.4" lengthAdjust="spacingAndGlyphs">20</text>
<rect x="659.6" y="532.8" width="1" height="1.6" fill="#77777c"/>
<text x="653.3" y="545" font-size="7.6" fill="#4c4c53" textLength="13.6" lengthAdjust="spacingAndGlyphs">12:00</text>
<rect x="704.7" y="532.8" width="1" height="1.6" fill="#77777c"/>
<text x="702.0" y="545" font-size="7.6" fill="#4c4c53" textLength="6.4" lengthAdjust="spacingAndGlyphs">25</text>
<rect x="764.2" y="532.8" width="1" height="1.6" fill="#77777c"/>
<text x="761.6" y="545" font-size="7.6" fill="#4c4c53" textLength="6.2" lengthAdjust="spacingAndGlyphs">27</text>
<rect x="809.8" y="532.8" width="1" height="1.6" fill="#77777c"/>
<text x="803.5" y="545" font-size="7.6" fill="#4c4c53" textLength="13.6" lengthAdjust="spacingAndGlyphs">12:00</text>
<rect x="852.1" y="532.8" width="1" height="1.6" fill="#77777c"/>
<text x="847.3" y="545" font-size="7.6" font-weight="bold" fill="#3a3244" textLength="10.6" lengthAdjust="spacingAndGlyphs">Dec</text>
</svg>
</body>
</html>
